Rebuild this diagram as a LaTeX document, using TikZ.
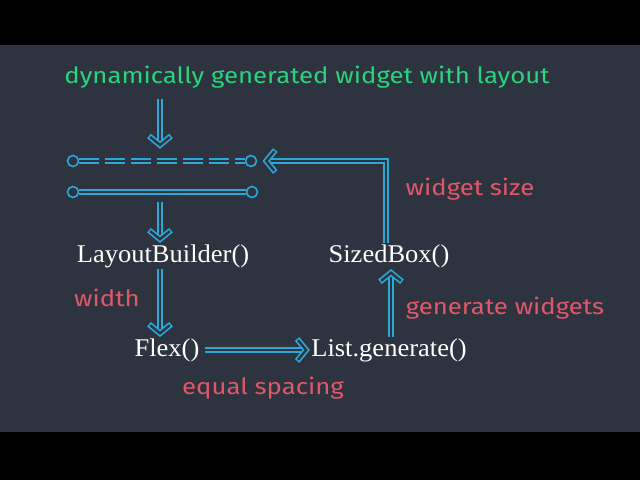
\documentclass[tikz,border=0pt]{standalone}
\usepackage{fontspec}
\setmainfont[FakeStretch=1.04]{Liberation Serif}
\newfontfamily\lblfont[FakeStretch=1.15]{Fira Sans}
\usetikzlibrary{arrows.meta}
\definecolor{bgc}{HTML}{2D3440}
\definecolor{cy}{HTML}{2AA8D8}
\definecolor{gr}{HTML}{28D47C}
\definecolor{rd}{HTML}{E2566A}
\pgfdeclarearrow{
  name=DChev,
  setup code={
    \pgfarrowssettipend{0pt}
    \pgfarrowssetlineend{-5pt}
    \pgfarrowssetvisualbackend{-13pt}
    \pgfarrowssetbackend{-13pt}
    \pgfarrowsupperhullpoint{-13pt}{12pt}
    \pgfarrowsupperhullpoint{0pt}{0pt}
  },
  drawing code={
    \pgfsetdash{}{0pt}\pgfsetmiterjoin\pgfsetbuttcap
    \pgfpathmoveto{\pgfpoint{-13pt}{11pt}}
    \pgfpathlineto{\pgfpoint{-4pt}{0pt}}
    \pgfpathlineto{\pgfpoint{-13pt}{-11pt}}
    \pgfsetlinewidth{5.8pt}\pgfsetstrokecolor{cy}\pgfusepathqstroke
    \pgfpathmoveto{\pgfpoint{-12.05pt}{9.84pt}}
    \pgfpathlineto{\pgfpoint{-4pt}{0pt}}
    \pgfpathlineto{\pgfpoint{-12.05pt}{-9.84pt}}
    \pgfsetlinewidth{2.4pt}\pgfsetstrokecolor{bgc}\pgfusepathqstroke
  }
}
\tikzset{
  dline/.style={draw=cy, line width=1.7pt, double=bgc, double distance=2.4pt},
  arr/.style={dline, -{DChev}},
  pin/.style={circle, draw=cy, line width=1.6pt, fill=bgc, minimum size=11pt, inner sep=0pt},
  code/.style={text=white, font=\fontsize{25.5}{28}\selectfont, inner sep=1pt},
  grlbl/.style={text=gr, font=\lblfont\fontsize{22.4}{26}\selectfont},
  rdlbl/.style={text=rd, font=\lblfont\fontsize{22.4}{26}\selectfont}
}
\begin{document}
\begin{tikzpicture}[x=1pt,y=-1pt]
\fill[black] (0,0) rectangle (640,480);
\fill[bgc] (0,45) rectangle (640,432);
\useasboundingbox (0,0) rectangle (640,480);

\node[grlbl] (title) at (307,77) {dynamically generated widget with layout};

% pins
\node[pin] (dl) at (73,161) {};
\node[pin] (dr) at (251,161) {};
\node[pin] (sl) at (73,192) {};
\node[pin] (sr) at (252,192) {};
\draw[dline, dash pattern=on 20pt off 6pt] (dl.east) -- (dr.west);
\draw[dline] (sl.east) -- (sr.west);

% code nodes
\node[code] (lb) at (163,256) {LayoutBuilder()};
\node[code] (sb) at (389,256) {SizedBox()};
\node[code] (fx) at (167,350) {Flex()};
\node[code] (lg) at (389,350) {List.generate()};

% labels
\node[rdlbl] (wsz) at (470,189) {widget size};
\node[rdlbl] (wd) at (107,298) {width};
\node[rdlbl] (gw) at (505,308) {generate widgets};
\node[rdlbl] (eq) at (263,388) {equal spacing};

% connectors
\coordinate (tstart) at (160,99);
\coordinate (ttip) at (160,149);
\draw[arr] (tstart) -- (ttip);
\coordinate (ax) at (160,0);
\draw[arr] (sl.south -| ax) ++(0,4) -- (lb.north -| ax);
\draw[arr] (lb.south -| ax) -- (fx.north -| ax);
\draw[arr] ([xshift=4pt]fx.east) -- (lg.west);
\coordinate (ux) at (391,0);
\draw[arr] (lg.north -| ux) -- (sb.south -| ux);
\coordinate (bx) at (386,0);
\draw[arr] (sb.north -| bx) |- ([xshift=5pt]dr.east);
\end{tikzpicture}
\end{document}
